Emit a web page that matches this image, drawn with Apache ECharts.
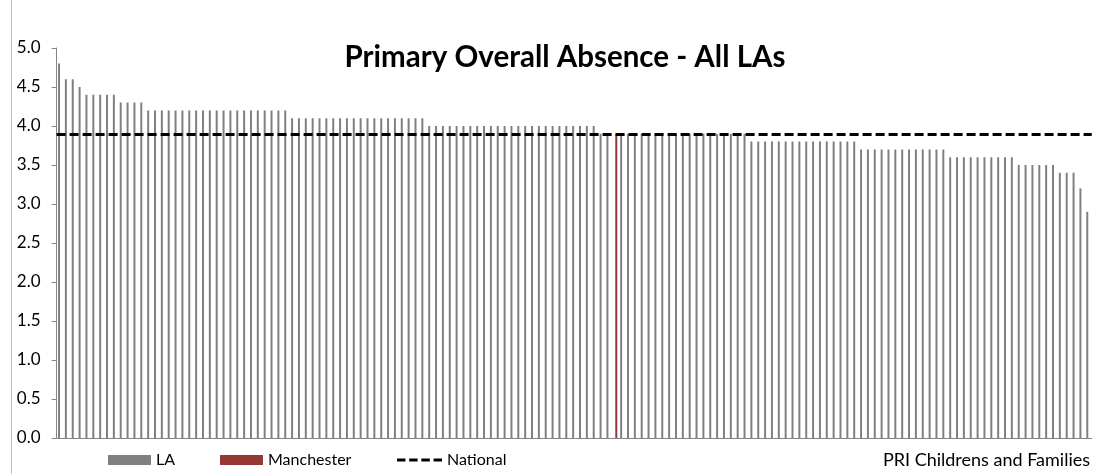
<!DOCTYPE html>
<html>
<head>
<meta charset="utf-8">
<script src="https://cdn.jsdelivr.net/npm/echarts@6/dist/echarts.min.js"></script>
<style>
html,body{margin:0;padding:0;background:#fff;}
#c{width:1103px;height:474px;}
</style>
</head>
<body>
<div id="c"></div>
<script>
// LA values, sorted descending (index 81 is Manchester -> null for LA series)
var laValues = [
4.8,
4.6,4.6,
4.5,
4.4,4.4,4.4,4.4,4.4,
4.3,4.3,4.3,4.3,
4.2,4.2,4.2,4.2,4.2,4.2,4.2,4.2,4.2,4.2,4.2,4.2,4.2,4.2,4.2,4.2,4.2,4.2,4.2,4.2,4.2,
4.1,4.1,4.1,4.1,4.1,4.1,4.1,4.1,4.1,4.1,4.1,4.1,4.1,4.1,4.1,4.1,4.1,4.1,4.1,4.1,
4.0,4.0,4.0,4.0,4.0,4.0,4.0,4.0,4.0,4.0,4.0,4.0,4.0,4.0,4.0,4.0,4.0,4.0,4.0,4.0,4.0,4.0,4.0,4.0,4.0,
3.9,3.9,null,3.9,3.9,3.9,3.9,3.9,3.9,3.9,3.9,3.9,3.9,3.9,3.9,3.9,3.9,3.9,3.9,3.9,3.9,3.9,
3.8,3.8,3.8,3.8,3.8,3.8,3.8,3.8,3.8,3.8,3.8,3.8,3.8,3.8,3.8,3.8,
3.7,3.7,3.7,3.7,3.7,3.7,3.7,3.7,3.7,3.7,3.7,3.7,3.7,
3.6,3.6,3.6,3.6,3.6,3.6,3.6,3.6,3.6,3.6,
3.5,3.5,3.5,3.5,3.5,3.5,
3.4,3.4,3.4,
3.2,
2.9
];
var manchesterIndex = 81;
var manchesterValue = 3.9;
var nationalValue = 3.9;
var yTicks = ['0.0','0.5','1.0','1.5','2.0','2.5','3.0','3.5','4.0','4.5','5.0'];

var categories = laValues.map(function(v,i){ return i===manchesterIndex ? 'Manchester' : 'LA ' + (i+1); });
var manData = laValues.map(function(v,i){ return i===manchesterIndex ? manchesterValue : null; });

var FONT = 'Lato, "Open Sans", sans-serif';
var DASH_ICON = 'path://M0,0h9v3h-9zM13,0h9v3h-9zM26,0h9v3h-9zM39,0h9v3h-9z';
var chart = echarts.init(document.getElementById('c'), null, {renderer:'canvas'});
chart.setOption({
  animation:false,
  backgroundColor:'#ffffff',
  grid:{left:56.6, right:11.3, top:48, bottom:36, containLabel:false},
  xAxis:{
    type:'category', data:categories, boundaryGap:true,
    axisLine:{show:true, lineStyle:{color:'#868686', width:1}},
    axisTick:{show:false}, axisLabel:{show:false}, splitLine:{show:false}
  },
  yAxis:{
    type:'value', min:0, max:5, interval:0.5,
    axisLine:{show:true, lineStyle:{color:'#868686', width:1}},
    axisTick:{show:true, inside:false, length:5, lineStyle:{color:'#868686'}},
    splitLine:{show:false},
    axisLabel:{margin:16, color:'#000', fontFamily:FONT, fontSize:17,
      formatter:function(v){ var s=v.toFixed(1); return yTicks.indexOf(s)>=0 ? s : ''; }}
  },
  legend:[
    {data:['LA'], left:103, top:447, itemWidth:43, itemHeight:10, itemGap:0,
      textStyle:{fontFamily:FONT, fontSize:16, color:'#000'}, icon:'rect'},
    {data:['Manchester'], left:215, top:447, itemWidth:43, itemHeight:10, itemGap:0,
      textStyle:{fontFamily:FONT, fontSize:16, color:'#000'}, icon:'rect'},
    {data:[{name:'National', icon:DASH_ICON}], left:392, top:447, itemWidth:45, itemHeight:3, itemGap:0,
      textStyle:{fontFamily:FONT, fontSize:16, color:'#000'}}
  ],
  series:[
    {name:'LA', type:'bar', data:laValues, barWidth:2, barGap:'0%',
      itemStyle:{color:'#808080'}},
    {name:'Manchester', type:'bar', data:manData, barWidth:2, barGap:'0%',
      itemStyle:{color:'#953735'}},
    {name:'National', type:'line', data:[], symbol:'none',
      lineStyle:{color:'#000', width:3, type:[9,4]},
      itemStyle:{color:'#000'},
      markLine:{silent:true, symbol:'none', label:{show:false},
        lineStyle:{color:'#000', width:3, type:[9,4]},
        data:[{yAxis:nationalValue}]}}
  ],
  graphic:[
    {type:'text', x:565, y:57, style:{text:'Primary Overall Absence - All LAs',
      fill:'#000', font:'bold 29.5px '+FONT, textAlign:'center', textVerticalAlign:'middle'}},
    {type:'text', x:1090, y:460, style:{text:'PRI Childrens and Families',
      fill:'#000', font:'18px '+FONT, textAlign:'right', textVerticalAlign:'middle'}},
    {type:'line', shape:{x1:11.5, y1:0, x2:11.5, y2:474}, style:{stroke:'#bfbfbf', lineWidth:1}}
  ]
});
</script>
</body>
</html>
